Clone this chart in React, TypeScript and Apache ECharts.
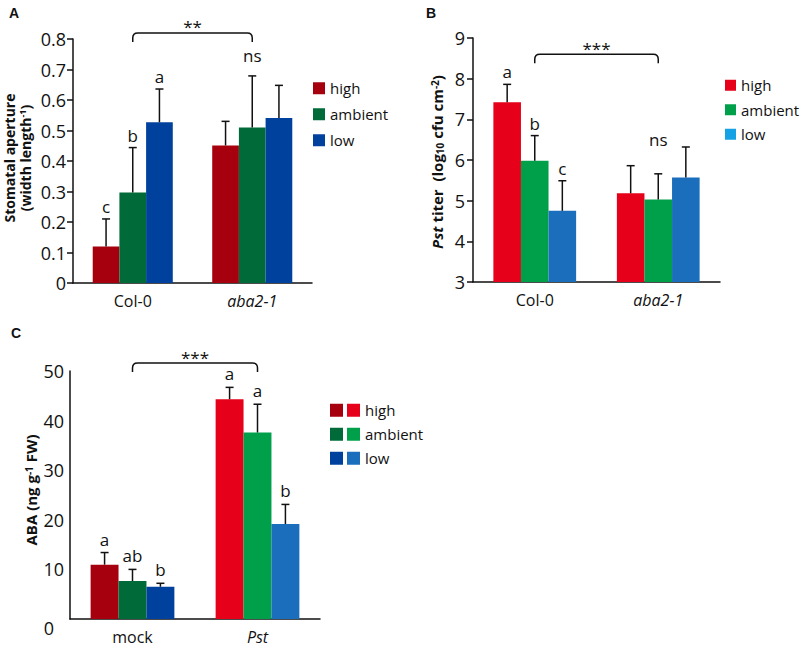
import React, { useEffect, useRef } from "react";
import * as echarts from "echarts";

// ---------- data ----------
const seriesNames = ["high", "ambient", "low"];

// Panel A: stomatal aperture
const catsA = ["Col-0", "aba2-1"];
const aHigh = [0.12, 0.451];
const aHighErr = [0.21, 0.53];
const aAmbient = [0.297, 0.51];
const aAmbientErr = [0.444, 0.679];
const aLow = [0.527, 0.541];
const aLowErr = [0.636, 0.648];
const aLetters = [["c", "b", "a"], ["", "ns", ""]];
const aStars = "**";
const aBracketY = 0.82;

// Panel B: Pst titer
const catsB = ["Col-0", "aba2-1"];
const bHigh = [7.42, 5.18];
const bHighErr = [7.86, 5.86];
const bAmbient = [5.98, 5.03];
const bAmbientErr = [6.6, 5.66];
const bLow = [4.75, 5.57];
const bLowErr = [5.49, 6.32];
const bLetters = [["a", "b", "c"], ["", "ns", ""]];
const bStars = "***";
const bBracketY = 8.6;

// Panel C: ABA
const catsC = ["mock", "Pst"];
const cHigh = [10.95, 44.3];
const cHighErr = [13.4, 46.7];
const cAmbient = [7.66, 37.6];
const cAmbientErr = [10.0, 43.3];
const cLow = [6.5, 19.15];
const cLowErr = [7.2, 23.1];
const cLetters = [["a", "ab", "b"], ["a", "a", "b"]];
const cStars = "***";
const cBracketY = 51.6;

// ---------- styles ----------
const FONT = "'Open Sans', sans-serif";
const darkColors = ["#A6000F", "#006B38", "#00419E"];
const lightColors = ["#E6001A", "#00A04A", "#1B6EBC"];
const bLegendColors = ["#E6001A", "#00A04A", "#14A2E4"];
const GAP = 0.33;

export default function App() {
  const ref = useRef<HTMLDivElement>(null);

  useEffect(() => {
    if (!ref.current) return;
    const chart = echarts.init(ref.current, null, { renderer: "svg" });

    const errRender = (letters: string[][], nsGap: number, gap: number) =>
      (params: any, api: any) => {
        const cat = api.value(0);
        const k = api.value(1);
        const top = api.coord([cat, api.value(3)]);
        const base = api.coord([cat, api.value(2)]);
        const band = api.size([1, 0])[0];
        const bw = (band * (1 - GAP)) / 3;
        const x = top[0] + (k - 1) * bw;
        const letter = letters[cat][k];
        const children: any[] = [
          { type: "line", shape: { x1: x, y1: base[1], x2: x, y2: top[1] }, style: { stroke: "#111", lineWidth: 1.5 } },
          { type: "line", shape: { x1: x - 4, y1: top[1], x2: x + 4, y2: top[1] }, style: { stroke: "#111", lineWidth: 1.5 } },
        ];
        if (letter) {
          children.push({
            type: "text",
            x: x,
            y: top[1] - (letter === "ns" ? nsGap : gap),
            style: {
              text: letter,
              textAlign: "center",
              textVerticalAlign: "bottom",
              fontSize: 17,
              fontFamily: FONT,
              fill: "#111",
            },
          });
        }
        return { type: "group", children };
      };

    const bracketRender = (stars: string) => (params: any, api: any) => {
      const p0 = api.coord([0, api.value(2)]);
      const p1 = api.coord([1, api.value(2)]);
      const y = p0[1];
      const x0 = p0[0];
      const x1 = p1[0];
      const h = 9;
      const r = 5;
      const d = `M${x0} ${y + h} L${x0} ${y + r} Q${x0} ${y} ${x0 + r} ${y} L${x1 - r} ${y} Q${x1} ${y} ${x1} ${y + r} L${x1} ${y + h}`;
      return {
        type: "group",
        children: [
          { type: "path", shape: { pathData: d }, style: { stroke: "#111", lineWidth: 1.5, fill: "none" } },
          {
            type: "text",
            x: (x0 + x1) / 2,
            y: y - 6,
            style: { text: stars, textAlign: "center", textVerticalAlign: "middle", fontSize: 17, fontFamily: FONT, fill: "#111" },
          },
        ],
      };
    };

    const panels = [
      { cats: catsA, vals: [aHigh, aAmbient, aLow], errs: [aHighErr, aAmbientErr, aLowErr], letters: aLetters, stars: aStars, by: aBracketY, nsGap: 12, colors: [darkColors, darkColors] },
      { cats: catsB, vals: [bHigh, bAmbient, bLow], errs: [bHighErr, bAmbientErr, bLowErr], letters: bLetters, stars: bStars, by: bBracketY, nsGap: 26, colors: [lightColors, lightColors] },
      { cats: catsC, vals: [cHigh, cAmbient, cLow], errs: [cHighErr, cAmbientErr, cLowErr], letters: cLetters, stars: cStars, by: cBracketY, nsGap: 5, colors: [darkColors, lightColors] },
    ];

    const series: any[] = [];
    panels.forEach((p, pi) => {
      p.vals.forEach((vals, si) => {
        series.push({
          type: "bar",
          name: seriesNames[si],
          xAxisIndex: pi,
          yAxisIndex: pi,
          barGap: "0%",
          barCategoryGap: GAP * 100 + "%",
          silent: true,
          itemStyle: { color: p.colors[0][si] },
          data: vals.map((v, ci) => ({ value: v, itemStyle: { color: p.colors[ci][si] } })),
        });
      });
      const errData: number[][] = [];
      p.cats.forEach((_, ci) => {
        p.vals.forEach((vals, si) => {
          errData.push([ci, si, vals[ci], p.errs[si][ci]]);
        });
      });
      series.push({
        type: "custom",
        coordinateSystem: "cartesian2d",
        xAxisIndex: pi,
        yAxisIndex: pi,
        renderItem: errRender(p.letters, p.nsGap, pi === 2 ? 5 : 4),
        encode: { x: 0, y: 3 },
        data: errData,
        z: 5,
        silent: true,
        clip: false,
      });
      series.push({
        type: "custom",
        coordinateSystem: "cartesian2d",
        xAxisIndex: pi,
        yAxisIndex: pi,
        renderItem: bracketRender(p.stars),
        encode: { x: 0, y: 2 },
        data: [[0, 1, p.by]],
        z: 5,
        silent: true,
        clip: false,
      });
    });

    const axisLine = { show: true, lineStyle: { color: "#111", width: 1.5 } };
    const tickLabel = { color: "#111", fontSize: 18, fontFamily: FONT };
    const catLabel = { color: "#111", fontSize: 16, fontFamily: FONT };

    const xAxis = panels.map((p, pi) => ({
      type: "category",
      gridIndex: pi,
      data: p.cats.map((c, ci) => (ci === 1 ? { value: c, textStyle: { fontStyle: "italic" } } : { value: c })),
      axisLine,
      axisTick: { show: false },
      axisLabel: { ...catLabel, margin: 10 },
    }));

    const yAxis = [
      {
        type: "value", gridIndex: 0, min: 0, max: 0.8, interval: 0.1,
        axisLine, splitLine: { show: false },
        axisTick: { show: true, length: 6, lineStyle: { color: "#111", width: 1.5 } },
        axisLabel: { ...tickLabel, margin: 7 },
      },
      {
        type: "value", gridIndex: 1, min: 3, max: 9, interval: 1,
        axisLine, splitLine: { show: false },
        axisTick: { show: true, length: 6, lineStyle: { color: "#111", width: 1.5 } },
        axisLabel: { ...tickLabel, margin: 8 },
      },
      {
        type: "value", gridIndex: 2, min: 0, max: 50, interval: 10,
        axisLine, splitLine: { show: false },
        axisTick: { show: false },
        axisLabel: {
          ...tickLabel,
          margin: 6,
          formatter: (v: number) => (v === 0 ? "{z|0}" : String(v)),
          rich: { z: { fontSize: 18, fontFamily: FONT, color: "#111", padding: [18, 10, 0, 0] } },
        },
      },
    ];

    const grid = [
      { left: 73, top: 39, width: 239, height: 244 },
      { left: 473, top: 38, width: 247, height: 244 },
      { left: 70, top: 371, width: 250, height: 248 },
    ];

    const legendBase = {
      orient: "vertical",
      icon: "rect",
      selectedMode: false,
      padding: 0,
      textStyle: { color: "#111", fontSize: 15, fontFamily: FONT },
    };
    const legend = [
      {
        ...legendBase, left: 313, top: 80.75, itemWidth: 12, itemHeight: 12, itemGap: 11,
        data: seriesNames.map((n, i) => ({ name: n, itemStyle: { color: darkColors[i] } })),
      },
      {
        ...legendBase, left: 725, top: 77.75, itemWidth: 11, itemHeight: 11, itemGap: 9.5,
        data: seriesNames.map((n, i) => ({ name: n, itemStyle: { color: bLegendColors[i] } })),
      },
      {
        ...legendBase, left: 330, top: 402.75, itemWidth: 13, itemHeight: 13, itemGap: 9,
        formatter: () => " ",
        data: seriesNames.map((n, i) => ({ name: n, itemStyle: { color: darkColors[i] } })),
      },
      {
        ...legendBase, left: 347, top: 402.75, itemWidth: 13, itemHeight: 13, itemGap: 9,
        data: seriesNames.map((n, i) => ({ name: n, itemStyle: { color: lightColors[i] } })),
      },
    ];

    const titleRich = {
      b: { fontSize: 14, fontWeight: "bold", fontFamily: FONT, color: "#111" },
      bi: { fontSize: 14, fontWeight: "bold", fontStyle: "italic", fontFamily: FONT, color: "#111" },
      sup: { fontSize: 9, fontWeight: "bold", fontFamily: FONT, verticalAlign: "top", color: "#111" },
      sub: { fontSize: 9, fontWeight: "bold", fontFamily: FONT, verticalAlign: "bottom", color: "#111" },
    };
    const titleRichB = {
      b: { ...titleRich.b, fontSize: 15 },
      bi: { ...titleRich.bi, fontSize: 15 },
      sup: { ...titleRich.sup, fontSize: 10 },
      sub: { ...titleRich.sub, fontSize: 10 },
    };
    const vText = (x: number, y: number, text: string, rich: any) => ({
      type: "text",
      x,
      y,
      rotation: Math.PI / 2,
      style: { text, rich, textAlign: "center", textVerticalAlign: "middle", fill: "#111" },
    });
    const panelLetter = (x: number, y: number, t: string) => ({
      type: "text",
      x,
      y,
      style: { text: t, fontSize: 14, fontWeight: "bold", fontFamily: "'Liberation Sans', Arial, sans-serif", fill: "#111" },
    });

    const graphic = [
      panelLetter(9, 6, "A"),
      panelLetter(426, 6, "B"),
      panelLetter(11, 326, "C"),
      vText(9, 158, "{b|Stomatal aperture}", titleRich),
      vText(25, 158, "{b|(width length}{sup|-1}{b|)}", titleRich),
      vText(437, 162, "{bi|Pst}{b| titer  (log}{sub|10}{b| cfu cm}{sup|-2}{b|)}", titleRichB),
      vText(31, 490, "{b|ABA (ng g}{sup|-1}{b| FW)}", titleRichB),
    ];

    chart.setOption({
      animation: false,
      backgroundColor: "#fff",
      grid,
      xAxis,
      yAxis,
      legend,
      graphic,
      series,
    });

    return () => chart.dispose();
  }, []);

  return <div ref={ref} style={{ position: "absolute", left: 0, top: 0, width: 800, height: 647 }} />;
}
